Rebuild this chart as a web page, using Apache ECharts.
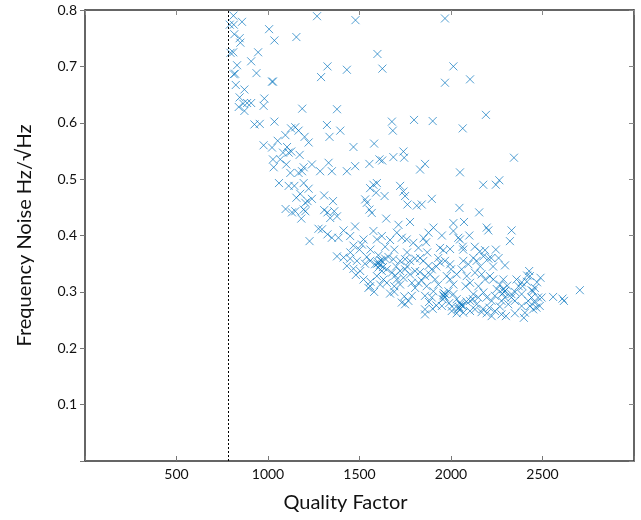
<!DOCTYPE html>
<html>
<head>
<meta charset="utf-8">
<script src="https://cdn.jsdelivr.net/npm/echarts@6/dist/echarts.min.js"></script>
<style>
html,body{margin:0;padding:0;background:#fff;}
#chart{width:641px;height:520px;}
</style>
</head>
<body>
<div id="chart"></div>
<script>
// Quality factor (x) and frequency noise (y)
const qualityFactor = [
811,791,813,858,816,845,849,1006,1035,1155,1268,795,810,946,908,831,813,820,937,1022,1027,1290,824,871,845,886,908,864,840,980,976,871,1187,926,955,1035,1126,1149,1167,1095,1200,1222,976,1022,1053,1104,1082,1113,1127,1173,1027,1067,1100,1240,1195,1031,1122,1167,1186,1060,1113,1144,1195,1222,1176,1155,1216,1204,1240,1096,1131,1149,1204,1195,1182,1276,1227,
1478,1967,1598,1325,1431,1625,2013,1967,2104,1377,1322,1395,1336,1677,1682,1798,1900,2064,2191,1467,1580,1740,1744,1685,1609,1624,1331,1554,1476,1858,2344,1285,1349,1431,1831,2049,
1576,1558,1591,1595,1637,1722,1740,1749,1762,1307,1355,1531,1540,1554,1567,1307,1325,1362,1377,1340,1646,1713,1776,1813,1476,1295,1325,1349,1413,1385,1449,1576,1595,1622,1522,1513,1704,1731,1758,1794,1822,1467,1667,1377,1413,1449,1486,1540,1558,1603,1622,1640,1658,1685,1722,1749,1776,1804,1431,1467,1504,1585,1603,1622,1595,1649,1677,1695,1722,1749,1776,1804,1522,1558,1549,1631,1649,1613,1704,1722,1786,1804,1822,1667,1731,1749,1786,1767,
2176,2245,2264,1895,1840,2046,2154,2013,2013,2071,2195,2204,2331,2322,1904,1877,1864,2040,2049,2064,2067,1940,1958,1995,2158,2186,2245,2295,1831,1849,1877,1895,1940,1967,1995,2067,2095,2122,2140,2177,2204,1858,1886,1913,1931,1977,1995,2013,2031,2058,2086,2104,2131,2167,2186,2213,2231,2267,2286,2307,2358,1867,1904,1858,1895,1958,1967,1986,2013,2031,2049,2067,2104,2122,2149,2177,2195,2222,2240,2276,2295,2313,2349,1858,1858,2004,2031,2049,2067,2104,2131,2167,2195,2222,2240,2276,2300,2349,2267,
2427,2416,2431,2489,2386,2391,2458,2449,2386,2704,2558,2609,2617,2440,2476,2495,2422,2458,2485,2431,2449,2467,2404,2398,2386,
1605,1612,1962,1960,2045,2052,2290,2285,1700,1740,1760,1830,1840,1920,1930,2000,2080,2150,2160,2230,2250,2330,2350,2370,1690,1760,1640,1870,1450,1500,1560,1530,1480,1850,1950,2100,2130,2220,2260,1580,1690,1900,1950,1990,
1615,1628,1598,1955,1968,2040,2058,2282,2296,1880,1920,2140,2175,2210,2330,2415,2440,2470,1560,1690,1745,2005,2085,2120
];
const frequencyNoise = [
0.790,0.774,0.774,0.779,0.757,0.750,0.742,0.766,0.746,0.752,0.789,0.724,0.725,0.725,0.709,0.702,0.686,0.687,0.688,0.673,0.673,0.681,0.667,0.659,0.645,0.635,0.635,0.634,0.628,0.643,0.630,0.621,0.625,0.597,0.598,0.602,0.590,0.592,0.586,0.578,0.575,0.565,0.560,0.556,0.568,0.557,0.547,0.547,0.549,0.543,0.535,0.535,0.526,0.526,0.521,0.521,0.511,0.511,0.514,0.493,0.488,0.488,0.493,0.483,0.474,0.467,0.461,0.458,0.465,0.447,0.441,0.443,0.443,0.446,0.430,0.412,0.390,
0.782,0.785,0.722,0.700,0.694,0.696,0.700,0.671,0.677,0.624,0.596,0.586,0.575,0.602,0.586,0.605,0.603,0.590,0.614,0.557,0.563,0.549,0.538,0.539,0.535,0.533,0.529,0.527,0.523,0.527,0.538,0.514,0.514,0.514,0.517,0.512,
0.490,0.484,0.476,0.493,0.470,0.488,0.478,0.470,0.455,0.471,0.461,0.464,0.458,0.446,0.440,0.445,0.441,0.443,0.434,0.431,0.430,0.419,0.424,0.453,0.416,0.411,0.402,0.396,0.409,0.396,0.399,0.408,0.393,0.399,0.393,0.384,0.405,0.396,0.393,0.387,0.378,0.382,0.392,0.363,0.361,0.359,0.355,0.362,0.355,0.365,0.355,0.359,0.362,0.358,0.355,0.358,0.355,0.359,0.346,0.341,0.337,0.349,0.343,0.337,0.328,0.340,0.334,0.329,0.337,0.340,0.331,0.337,0.322,0.310,0.307,0.322,0.316,0.313,0.322,0.313,0.316,0.307,0.316,0.297,0.281,0.278,0.293,0.284,
0.490,0.490,0.498,0.465,0.455,0.449,0.441,0.422,0.408,0.424,0.414,0.409,0.409,0.390,0.414,0.405,0.388,0.396,0.393,0.380,0.375,0.378,0.374,0.376,0.372,0.374,0.375,0.347,0.360,0.355,0.346,0.340,0.352,0.355,0.349,0.355,0.349,0.360,0.355,0.363,0.359,0.328,0.331,0.322,0.313,0.328,0.322,0.313,0.331,0.340,0.328,0.316,0.334,0.331,0.322,0.328,0.322,0.313,0.322,0.311,0.322,0.310,0.301,0.293,0.290,0.294,0.290,0.301,0.296,0.287,0.281,0.275,0.284,0.296,0.290,0.299,0.290,0.284,0.293,0.284,0.290,0.278,0.284,0.269,0.260,0.266,0.262,0.269,0.263,0.266,0.269,0.264,0.262,0.257,0.266,0.260,0.257,0.262,0.274,
0.337,0.329,0.328,0.325,0.317,0.310,0.307,0.301,0.296,0.303,0.291,0.288,0.284,0.290,0.290,0.290,0.284,0.281,0.275,0.275,0.269,0.272,0.263,0.254,0.275,
0.352,0.348,0.292,0.298,0.273,0.278,0.300,0.305,0.345,0.325,0.345,0.335,0.320,0.345,0.360,0.340,0.310,0.310,0.345,0.345,0.305,0.290,0.300,0.310,0.375,0.370,0.380,0.370,0.370,0.375,0.375,0.350,0.330,0.395,0.400,0.400,0.380,0.360,0.360,0.300,0.310,0.270,0.275,0.280,
0.356,0.344,0.350,0.287,0.296,0.270,0.276,0.297,0.302,0.282,0.276,0.278,0.270,0.272,0.296,0.318,0.303,0.317,0.318,0.300,0.292,0.274,0.283,0.287
];
const xTicks = [0, 500, 1000, 1500, 2000, 2500, 3000];
const yTicks = [0, 0.1, 0.2, 0.3, 0.4, 0.5, 0.6, 0.7, 0.8];
const thresholdQ = 783;

const points = qualityFactor.map((q, i) => [q, frequencyNoise[i]]);
const FONT = 'Lato';
const MARK = 'rgba(0,114,189,0.68)';
const axisLineStyle = { color: '#333333', width: 1.5 };

const chart = echarts.init(document.getElementById('chart'), null, { renderer: 'canvas' });
chart.setOption({
  animation: false,
  backgroundColor: '#ffffff',
  grid: { left: 85, right: 7, top: 10, bottom: 59, containLabel: false },
  xAxis: [
    {
      type: 'value', position: 'bottom',
      min: xTicks[0], max: xTicks[xTicks.length - 1], interval: 500,
      name: 'Quality Factor', nameLocation: 'middle', nameGap: 32,
      nameTextStyle: { fontFamily: FONT, fontSize: 20, color: '#111', padding: [0, 28, 0, 0] },
      axisLine: { show: true, onZero: false, lineStyle: axisLineStyle },
      axisTick: { show: true, inside: true, length: 5, lineStyle: { color: '#777', width: 1 } },
      axisLabel: { margin: 6, fontFamily: FONT, fontSize: 14, color: '#111',
        formatter: v => (v === xTicks[0] || v === xTicks[xTicks.length - 1]) ? '' : String(v) },
      splitLine: { show: false }
    },
    {
      type: 'value', position: 'top',
      min: xTicks[0], max: xTicks[xTicks.length - 1], interval: 500,
      axisLine: { show: true, onZero: false, lineStyle: axisLineStyle },
      axisTick: { show: true, inside: true, length: 5, lineStyle: { color: '#888', width: 1 } },
      axisLabel: { show: false },
      splitLine: { show: false }
    }
  ],
  yAxis: [
    {
      type: 'value', position: 'left',
      min: yTicks[0], max: yTicks[yTicks.length - 1], interval: 0.1,
      name: 'Frequency Noise Hz/\u221AHz', nameLocation: 'middle', nameGap: 50,
      nameTextStyle: { fontFamily: FONT, fontSize: 20, color: '#111' },
      axisLine: { show: true, onZero: false, lineStyle: axisLineStyle },
      axisTick: { show: true, inside: false, length: 5, lineStyle: { color: '#777', width: 1 } },
      axisLabel: { margin: 8, fontFamily: FONT, fontSize: 14, color: '#111',
        formatter: v => Math.abs(v) < 1e-9 ? '' : v.toFixed(1) },
      splitLine: { show: false }
    },
    {
      type: 'value', position: 'right',
      min: yTicks[0], max: yTicks[yTicks.length - 1], interval: 0.1,
      axisLine: { show: true, onZero: false, lineStyle: axisLineStyle },
      axisTick: { show: true, inside: true, length: 5, lineStyle: { color: '#888', width: 1 } },
      axisLabel: { show: false },
      splitLine: { show: false }
    }
  ],
  series: [
    {
      type: 'scatter',
      xAxisIndex: 0, yAxisIndex: 0,
      data: points,
      symbol: 'path://M0,0L10,10M10,0L0,10',
      symbolSize: 8,
      itemStyle: { color: MARK, borderColor: MARK, borderWidth: 1, opacity: 1 },
      emphasis: { disabled: true },
      markLine: {
        silent: true, symbol: ['none', 'none'], label: { show: false },
        lineStyle: { color: '#000', width: 1, type: [2, 2] },
        data: [{ xAxis: thresholdQ }]
      }
    }
  ]
});
</script>
</body>
</html>
